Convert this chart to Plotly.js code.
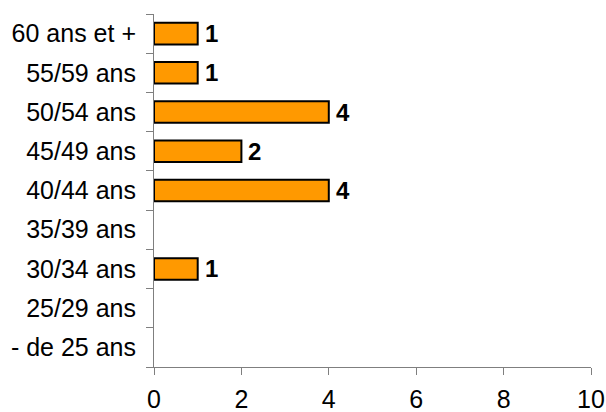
<!DOCTYPE html>
<html>
<head>
<meta charset="utf-8">
<script src="https://cdn.plot.ly/plotly-3.0.1.min.js"></script>
<style>html,body{margin:0;padding:0;background:#fff}#chart{width:606px;height:412px}</style>
</head>
<body>
<div id="chart"></div>
<script>
var categories = ["- de 25 ans", "25/29 ans", "30/34 ans", "35/39 ans", "40/44 ans", "45/49 ans", "50/54 ans", "55/59 ans", "60 ans et +"];
var values = [0, 0, 1, 0, 4, 2, 4, 1, 1];
var xTicks = [0, 2, 4, 6, 8, 10];

var plotValues = values.map(function(v){ return v > 0 ? v : null; });
var font = "Arial, 'Liberation Sans', sans-serif";

var annotations = [];
categories.forEach(function(c, i){
  if (values[i] > 0) {
    annotations.push({
      x: values[i], y: c, xref: 'x', yref: 'y',
      text: '<b>' + values[i] + '</b>', showarrow: false,
      xanchor: 'left', yanchor: 'middle', xshift: 5, yshift: 0,
      font: {family: font, size: 24, color: '#000'}
    });
  }
});

var trace = {
  type: 'bar', orientation: 'h',
  x: plotValues, y: categories,
  marker: {color: '#FF9900', line: {color: '#000', width: 2}},
  hoverinfo: 'skip'
};

var layout = {
  width: 606, height: 412,
  margin: {l: 153.5, r: 15, t: 14, b: 45.3, pad: 0},
  paper_bgcolor: '#fff', plot_bgcolor: '#fff',
  showlegend: false,
  bargap: 0.45,
  font: {family: font, size: 25, color: '#000'},
  xaxis: {
    range: [0, 10], tickvals: xTicks, ticktext: xTicks.map(String),
    showgrid: false, zeroline: false, showline: true, linecolor: '#7f7f7f', linewidth: 1,
    ticks: 'outside', ticklen: 7, tickcolor: '#7f7f7f', tickwidth: 1,
    ticklabelstandoff: 3,
    tickfont: {family: font, size: 25, color: '#000'}, fixedrange: true
  },
  yaxis: {
    type: 'category', categoryorder: 'array', categoryarray: categories,
    range: [-0.5, 8.5], tickson: 'boundaries',
    showgrid: false, zeroline: false, showline: true, linecolor: '#7f7f7f', linewidth: 1,
    ticks: 'outside', ticklen: 7, tickcolor: '#7f7f7f', tickwidth: 1,
    ticklabelstandoff: 12,
    tickfont: {family: font, size: 25, color: '#000'}, fixedrange: true
  },
  annotations: annotations
};

Plotly.newPlot('chart', [trace], layout, {displayModeBar: false, staticPlot: true});
</script>
</body>
</html>
